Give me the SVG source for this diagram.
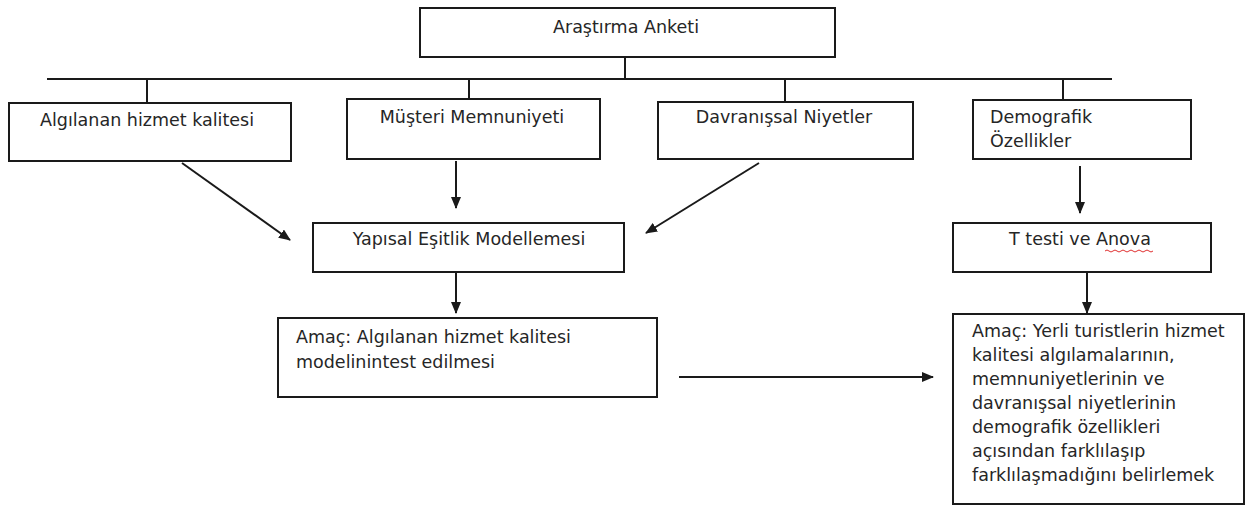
<svg xmlns="http://www.w3.org/2000/svg" width="1251" height="509" viewBox="0 0 1251 509">
<style>
.box{fill:#fff;stroke:#1a1a1a;stroke-width:2}
.t{font-family:"DejaVu Sans","Liberation Sans",sans-serif;font-size:17.5px;fill:#262626}
.c{text-anchor:middle}
.ln{stroke:#1a1a1a;stroke-width:2;fill:none}
</style>
<defs>
<marker id="ah" viewBox="0 0 12 10" refX="11" refY="5" markerWidth="12" markerHeight="10" markerUnits="userSpaceOnUse" orient="auto">
<path d="M0,0 L12,5 L0,10 Z" fill="#1a1a1a"/>
</marker>
</defs>
<rect width="1251" height="509" fill="#fff"/>
<g id="connectors">
<line class="ln" x1="625" y1="57" x2="625" y2="79"/>
<line class="ln" x1="47" y1="79" x2="1112" y2="79"/>
<line class="ln" x1="147" y1="79" x2="147" y2="103"/>
<line class="ln" x1="469" y1="79" x2="469" y2="99"/>
<line class="ln" x1="785" y1="79" x2="785" y2="102"/>
<line class="ln" x1="1063" y1="79" x2="1063" y2="100"/>
<line class="ln" x1="182" y1="163" x2="290" y2="240" marker-end="url(#ah)"/>
<line class="ln" x1="456" y1="161" x2="456" y2="208" marker-end="url(#ah)"/>
<line class="ln" x1="759" y1="163" x2="646" y2="233" marker-end="url(#ah)"/>
<line class="ln" x1="1080" y1="166" x2="1080" y2="213" marker-end="url(#ah)"/>
<line class="ln" x1="456" y1="272" x2="456" y2="313" marker-end="url(#ah)"/>
<line class="ln" x1="679" y1="377" x2="933" y2="377" marker-end="url(#ah)"/>
<line class="ln" x1="1087" y1="272" x2="1087" y2="313" marker-end="url(#ah)"/>
</g>
<g id="n-arastirma">
<rect class="box" x="420" y="8" width="415" height="49"/>
<text class="t c" x="626" y="33">Araştırma Anketi</text>
</g>
<g id="n-algilanan">
<rect class="box" x="9" y="103" width="282" height="58"/>
<text class="t c" x="147" y="126">Algılanan hizmet kalitesi</text>
</g>
<g id="n-musteri">
<rect class="box" x="347" y="99" width="253" height="60"/>
<text class="t c" x="472" y="123">Müşteri Memnuniyeti</text>
</g>
<g id="n-davranissal">
<rect class="box" x="658" y="102" width="255" height="57"/>
<text class="t c" x="784" y="123">Davranışsal Niyetler</text>
</g>
<g id="n-demografik">
<rect class="box" x="973" y="100" width="218" height="59"/>
<text class="t" x="990" y="123">Demografik</text>
<text class="t" x="990" y="147">Özellikler</text>
</g>
<g id="n-yapisal">
<rect class="box" x="313" y="223" width="311" height="49"/>
<text class="t c" x="469" y="245">Yapısal Eşitlik Modellemesi</text>
</g>
<g id="n-ttesti">
<rect class="box" x="953" y="223" width="258" height="49"/>
<text class="t c" x="1080" y="245">T testi ve Anova</text>
<path d="M1105,251 q2,-2 4,0 t4,0 t4,0 t4,0 t4,0 t4,0 t4,0 t4,0 t4,0 t4,0 t4,0 t4,0" fill="none" stroke="#e03030" stroke-width="1"/>
</g>
<g id="n-amac1">
<rect class="box" x="278" y="318" width="379" height="79"/>
<text class="t" x="296" y="343">Amaç: Algılanan hizmet kalitesi</text>
<text class="t" x="296" y="368">modelinintest edilmesi</text>
</g>
<g id="n-amac2">
<rect class="box" x="953" y="314" width="291" height="190"/>
<text class="t" x="972" y="337">Amaç: Yerli turistlerin hizmet</text>
<text class="t" x="972" y="361">kalitesi algılamalarının,</text>
<text class="t" x="972" y="385">memnuniyetlerinin ve</text>
<text class="t" x="972" y="409">davranışsal niyetlerinin</text>
<text class="t" x="972" y="433">demografik özellikleri</text>
<text class="t" x="972" y="457">açısından farklılaşıp</text>
<text class="t" x="972" y="481">farklılaşmadığını belirlemek</text>
</g>
</svg>
